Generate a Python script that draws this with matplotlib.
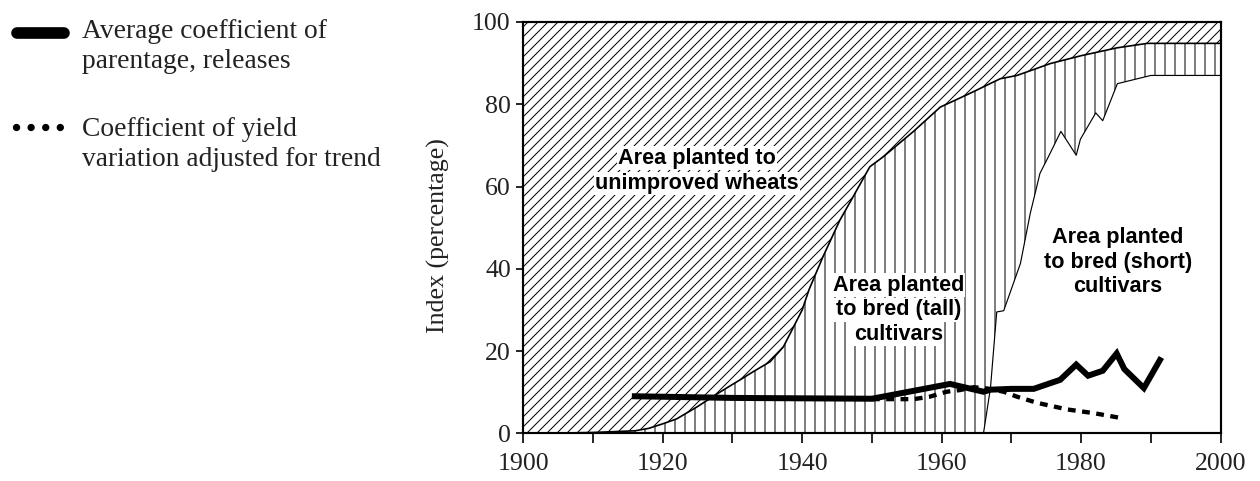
import numpy as np
import matplotlib
matplotlib.use("Agg")
import matplotlib.pyplot as plt
from matplotlib.lines import Line2D

# ---------------- data ----------------
# upper boundary of improved (bred) area: tall + short, %
improved_years = [1904, 1910, 1916, 1918, 1920, 1922, 1925, 1928, 1931, 1933, 1935.4,
                  1937.3, 1938.5, 1940, 1941, 1943, 1945.4, 1947.3, 1949.7, 1951.6,
                  1955.9, 1959.8, 1964, 1968.4, 1970.8, 1975.6, 1980, 1985.1, 1989.5, 2000]
improved_vals = [0, 0.2, 0.6, 1.2, 2.3, 3.5, 6.5, 9.8, 12.9, 15, 17.4,
                 21, 25, 30, 35, 43, 51.8, 57.5, 64.8, 67.2,
                 73.3, 79.3, 82.6, 86.2, 87, 89.9, 91.8, 93.7, 94.8, 94.8]

# area planted to bred (short) cultivars, %
short_years = [1966, 1967, 1967.9, 1968.9, 1971.3, 1972.7, 1974.1, 1975.3, 1977.1,
               1979.3, 1979.9, 1982.1, 1983.1, 1985.2, 1990, 2000]
short_vals = [0, 11, 29.5, 29.8, 41.3, 53.4, 63.2, 67.2, 73.4,
              67.6, 71.5, 77.9, 76, 85, 87, 87]

# average coefficient of parentage, releases
cop_years = [1916, 1930, 1950, 1961.2, 1966, 1967, 1970, 1973.2, 1977, 1979.3,
             1981, 1983.1, 1985.1, 1986.2, 1989, 1991.3]
cop_vals = [9.0, 8.6, 8.4, 12.0, 10.1, 10.6, 10.8, 10.8, 13.0, 16.7,
            14.0, 15.2, 19.4, 15.6, 11.0, 17.8]

# coefficient of yield variation adjusted for trend
cv_years = [1950, 1953.6, 1956, 1958.3, 1960.7, 1962.6, 1964.6, 1966.5, 1968.9,
            1970.8, 1973.7, 1978, 1981.8, 1986.1]
cv_vals = [8.3, 8.3, 8.3, 8.9, 10.1, 10.5, 11.2, 10.9, 10.1, 8.9, 7.4, 5.8, 4.9, 3.6]

x_ticks = [1900, 1920, 1940, 1960, 1980, 2000]
y_ticks = [0, 20, 40, 60, 80, 100]

# ---------------- figure ----------------
plt.rcParams['hatch.linewidth'] = 0.6
serif = ['Liberation Serif', 'DejaVu Serif']
sans = ['Liberation Sans', 'DejaVu Sans']

fig = plt.figure(figsize=(10.5, 481 / 120), dpi=120)
ax = fig.add_axes([0.4153, 0.0992, 0.5534, 0.8551])

grid = np.unique(np.concatenate([np.linspace(1900, 2000, 2001), improved_years, short_years]))
imp = np.interp(grid, improved_years, improved_vals, left=0)
sht = np.interp(grid, short_years, short_vals, left=0)

# unimproved wheats (diagonal hatch)
ax.fill_between(grid, imp, 100, facecolor='white', edgecolor='black',
                hatch='////', linewidth=0, zorder=1)
# bred tall cultivars (vertical hatch)
ax.fill_between(grid, sht, imp, where=imp > sht, facecolor='white', edgecolor='black',
                hatch='||', linewidth=0, zorder=1, interpolate=True)

ax.plot(improved_years, improved_vals, color='black', lw=1.0, zorder=2)
ax.plot(short_years, short_vals, color='black', lw=0.7, zorder=2)

ax.plot(cv_years, cv_vals, color='black', lw=2.6, linestyle=(0, (1.8, 1.5)),
        dash_capstyle='butt', zorder=3)
ax.plot(cop_years, cop_vals, color='black', lw=3.6, solid_joinstyle='miter', zorder=4)

# region labels
def region_label(x, ys, lines):
    for y, t in zip(ys, lines):
        ax.text(x, y, t, ha='center', va='center', fontsize=13, fontweight='bold',
                family=sans, zorder=5,
                bbox=dict(facecolor='white', edgecolor='none', pad=0.8))

region_label(1924.9, [66.9, 60.7], ['Area planted to', 'unimproved wheats'])
region_label(1953.8, [36.0, 30.0, 24.1], ['Area planted', 'to bred (tall)', 'cultivars'])
region_label(1985.3, [47.7, 41.6, 35.6], ['Area planted', 'to bred (short)', 'cultivars'])

ax.set_xlim(1900, 2000)
ax.set_ylim(0, 100)
ax.set_xticks(x_ticks)
ax.set_xticks(np.arange(1900, 2001, 10), minor=True)
ax.set_yticks(y_ticks)
ax.tick_params(axis='x', which='both', direction='out', length=6, width=1.0,
               pad=6, labelsize=15.5, labelcolor='#222222')
ax.tick_params(axis='y', direction='out', length=4.5, width=1.0,
               pad=3, labelsize=15.5, labelcolor='#222222')
for lab in ax.get_xticklabels() + ax.get_yticklabels():
    lab.set_family(serif)
for sp in ax.spines.values():
    sp.set_linewidth(1.3)
    sp.set_zorder(6)

ax.set_ylabel('Index (percentage)', fontsize=15.5, family=serif, color='#222222', va='center')
ax.yaxis.set_label_coords(-0.121, 0.48)

# legend (left side)
W, H = 1260, 481
def fx(px): return px / W
def fy(py): return 1 - py / H

fig.add_artist(Line2D([fx(17), fx(64)], [fy(33), fy(33)], color='black', lw=7,
                      solid_capstyle='round'))
fig.add_artist(Line2D([fx(16), fx(63)], [fy(127), fy(127)], color='black', lw=4.4,
                      linestyle=(0, (0.01, 1.98)), dash_capstyle='round'))
for py, t in [(38, 'Average coefficient of'), (68, 'parentage, releases'),
              (136, 'Coefficient of yield'), (166, 'variation adjusted for trend')]:
    fig.text(fx(82), fy(py), t, ha='left', va='baseline', fontsize=16.5,
             family=serif, color='#222222')

fig.savefig('out.png', dpi=120)
